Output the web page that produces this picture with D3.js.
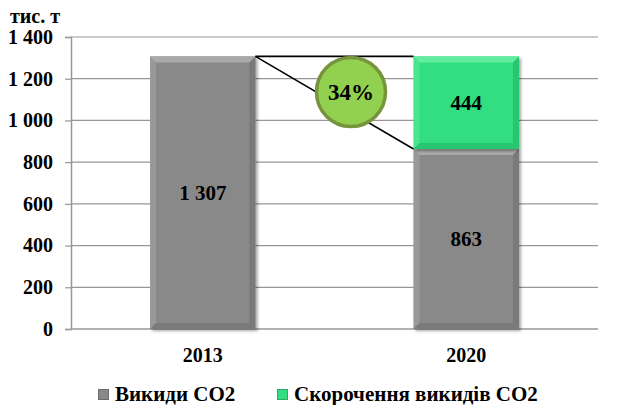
<!DOCTYPE html>
<html>
<head>
<meta charset="utf-8">
<script src="https://d3js.org/d3.v7.min.js"></script>
<style>
  body { margin: 0; background: #fff; }
  text { font-family: "Liberation Serif", "Times New Roman", serif; font-weight: bold; fill: #000; }
</style>
</head>
<body>
<script>
// data
var years = ["2013", "2020"];
var emissions = [1307, 863];
var reduction = [0, 444];
var yTicks = [0, 200, 400, 600, 800, 1000, 1200, 1400];
var seriesNames = ["Викиди CO2", "Скорочення викидів CO2"];
var pctLabel = "34%";

(function() {
var width = 620, height = 405;
var plotL = 71, plotR = 598, plotT = 37, plotB = 329;

var svg = d3.select("body").append("svg")
  .attr("width", width)
  .attr("height", height);

var defs = svg.append("defs");
var f = defs.append("filter").attr("id", "shadow").attr("x", "-10%").attr("y", "-10%").attr("width", "130%").attr("height", "130%");
f.append("feDropShadow").attr("dx", 2).attr("dy", 2).attr("stdDeviation", 1.5).attr("flood-color", "#000").attr("flood-opacity", 0.35);

var x = d3.scaleBand().domain(years).range([plotL, plotR]).paddingInner(0.6).paddingOuter(0.3);
var y = d3.scaleLinear().domain([0, 1400]).range([plotB, plotT]);

function fmt(d) { return d3.format(",")(d).replace(",", " "); }

// grid
svg.append("g").selectAll("line").data(yTicks.filter(function(d){ return d > 0; })).enter().append("line")
  .attr("x1", plotL).attr("x2", plotR)
  .attr("y1", function(d){ return y(d); }).attr("y2", function(d){ return y(d); })
  .attr("stroke", "#979797").attr("stroke-width", 1.2);

// y axis
var yAxis = d3.axisLeft(y).tickValues(yTicks).tickSize(6).tickPadding(12).tickFormat(fmt);
var gy = svg.append("g").attr("transform", "translate(" + plotL + ",0)").call(yAxis);
gy.select(".domain").attr("stroke", "#979797").attr("stroke-width", 1.5);
gy.selectAll(".tick line").attr("stroke", "#979797").attr("stroke-width", 1.2);
gy.selectAll(".tick text").style("font-size", "20px").style("font-family", "Liberation Serif").style("font-weight", "bold").attr("fill", "#000");

// x axis line
svg.append("line").attr("x1", plotL).attr("x2", plotR).attr("y1", y(0)).attr("y2", y(0))
  .attr("stroke", "#979797").attr("stroke-width", 1.5);

svg.append("text").attr("x", 10).attr("y", 23).style("font-size", "20px").text("тис. т");

// bevelled bar
function bevelBar(g, x0, y0, w, h, base, light, dark) {
  var b = 6;
  var bar = g.append("g").attr("filter", "url(#shadow)");
  bar.append("rect").attr("x", x0).attr("y", y0).attr("width", w).attr("height", h).attr("fill", base);
  bar.append("polygon").attr("points", [[x0, y0], [x0 + w, y0], [x0 + w - b, y0 + b], [x0 + b, y0 + b]].join(" ")).attr("fill", light);
  bar.append("polygon").attr("points", [[x0, y0], [x0 + b, y0 + b], [x0 + b, y0 + h - b], [x0, y0 + h]].join(" ")).attr("fill", light).attr("opacity", 0.5);
  bar.append("polygon").attr("points", [[x0 + w, y0], [x0 + w, y0 + h], [x0 + w - b, y0 + h - b], [x0 + w - b, y0 + b]].join(" ")).attr("fill", dark).attr("opacity", 0.6);
  bar.append("polygon").attr("points", [[x0, y0 + h], [x0 + w, y0 + h], [x0 + w - b, y0 + h - b], [x0 + b, y0 + h - b]].join(" ")).attr("fill", dark).attr("opacity", 0.6);
}

var bars = svg.append("g");
years.forEach(function(yr, i) {
  bevelBar(bars, x(yr), y(emissions[i]), x.bandwidth(), y(0) - y(emissions[i]), "#898989", "#a9a9a9", "#6f6f6f");
  if (reduction[i] > 0) {
    var t = emissions[i] + reduction[i];
    bevelBar(bars, x(yr), y(t), x.bandwidth(), y(emissions[i]) - y(t), "#31de7f", "#62ec9f", "#22b866");
  }
});

// connector lines
var x1 = x(years[0]) + x.bandwidth(), x2 = x(years[1]);
var topY = y(emissions[0]);
svg.append("line").attr("x1", x1).attr("y1", topY).attr("x2", x2).attr("y2", topY).attr("stroke", "#000").attr("stroke-width", 1.6);
svg.append("line").attr("x1", x1).attr("y1", topY).attr("x2", x2).attr("y2", y(emissions[1])).attr("stroke", "#000").attr("stroke-width", 1.6);

// value labels
var labels = svg.append("g").style("font-size", "21px").attr("text-anchor", "middle");
years.forEach(function(yr, i) {
  var cx = x(yr) + x.bandwidth() / 2;
  labels.append("text").attr("x", cx).attr("y", (y(0) + y(emissions[i])) / 2 + 7).text(fmt(emissions[i]));
  if (reduction[i] > 0) {
    labels.append("text").attr("x", cx).attr("y", (y(emissions[i]) + y(emissions[i] + reduction[i])) / 2 + 7)
      .text(reduction[i]);
  }
});

// percentage badge
var bx = 351, by = 92;
svg.append("circle").attr("cx", bx).attr("cy", by).attr("r", 34.5)
  .attr("fill", "#92d050").attr("stroke", "#77933c").attr("stroke-width", 3.5);
svg.append("text").attr("x", bx).attr("y", by + 8).attr("text-anchor", "middle").style("font-size", "23px").text(pctLabel);

// x labels
svg.append("g").selectAll("text").data(years).enter().append("text")
  .attr("x", function(d){ return x(d) + x.bandwidth() / 2; })
  .attr("y", 362).attr("text-anchor", "middle").style("font-size", "20px")
  .text(function(d){ return d; });

// legend
var legendX = [98, 277];
var legendColors = ["#898989", "#31de7f"];
var lg = svg.append("g");
seriesNames.forEach(function(name, i) {
  lg.append("rect").attr("x", legendX[i] + 0.5).attr("y", 389.5).attr("width", 10).attr("height", 10)
    .attr("fill", legendColors[i]).attr("stroke", d3.color(legendColors[i]).darker(0.7)).attr("stroke-width", 1);
  lg.append("text").attr("x", legendX[i] + 17).attr("y", 401).style("font-size", "21px").text(name);
});
})();
</script>
</body>
</html>
